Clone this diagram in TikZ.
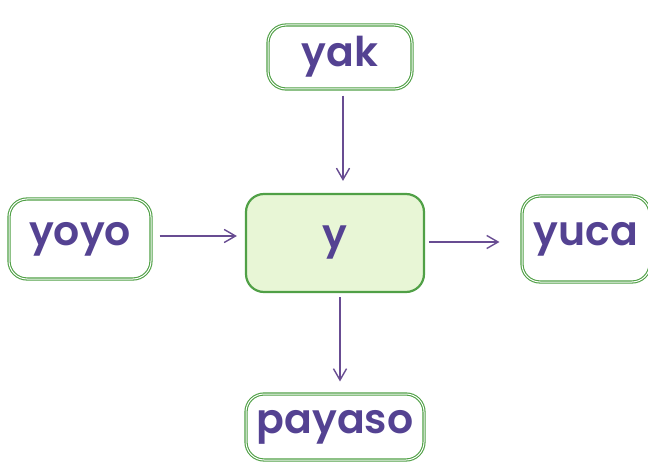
\documentclass[tikz,border=0pt]{standalone}
\usepackage{fontspec}
\setmainfont{Poppins}
\newfontfamily\wordfont{Poppins SemiBold}
\usetikzlibrary{arrows.meta,positioning}
\definecolor{wordpurple}{RGB}{84,66,146}
\definecolor{boxgreen}{RGB}{80,160,70}
\definecolor{centerfill}{RGB}{232,246,214}
\definecolor{arrowpurple}{RGB}{104,76,146}

\begin{document}
\begin{tikzpicture}[
        x=1pt, y=-1pt,
        font=\wordfont\fontsize{41}{44}\selectfont,
        >={Straight Barb[length=4mm, width=4.6mm, line width=1.4pt]},
        word/.style={rectangle, rounded corners=18pt, draw=boxgreen, line width=1.1pt,
            double=white, double distance=1pt, text=wordpurple, align=center,
            inner sep=0pt, fill=white},
        center/.style={word, double=none, line width=2.2pt, fill=centerfill},
        link/.style={->, draw=arrowpurple, line width=2.4pt}
    ]
        \useasboundingbox (0,0) rectangle (648,473);

        \node[center, minimum width=178pt, minimum height=98pt] (y) at (335,243) {y};
        \node[word, minimum width=144pt, minimum height=64pt] (yak)    at (340,57)  {yak};
        \node[word, minimum width=142pt, minimum height=80pt] (yoyo)   at (80,239)  {yoyo};
        \node[word, minimum width=128pt, minimum height=86pt] (yuca)   at (586,239) {yuca};
        \node[word, minimum width=178pt, minimum height=66pt] (payaso) at (335,427) {payaso};

        \draw[link, shorten <=6pt, shorten >=12pt] (yak.south -| 343,0) -- (y.north -| 343,0);
        \draw[link, shorten <=8pt, shorten >=8pt] (yoyo.east |- 0,236) -- (y.west |- 0,236);
        \draw[link, shorten <=4pt, shorten >=22pt] (y.east |- 0,242) -- (yuca.west |- 0,242);
        \draw[link, shorten <=4pt, shorten >=12pt] (y.south -| 340,0) -- (payaso.north -| 340,0);
    \end{tikzpicture}
\end{document}
